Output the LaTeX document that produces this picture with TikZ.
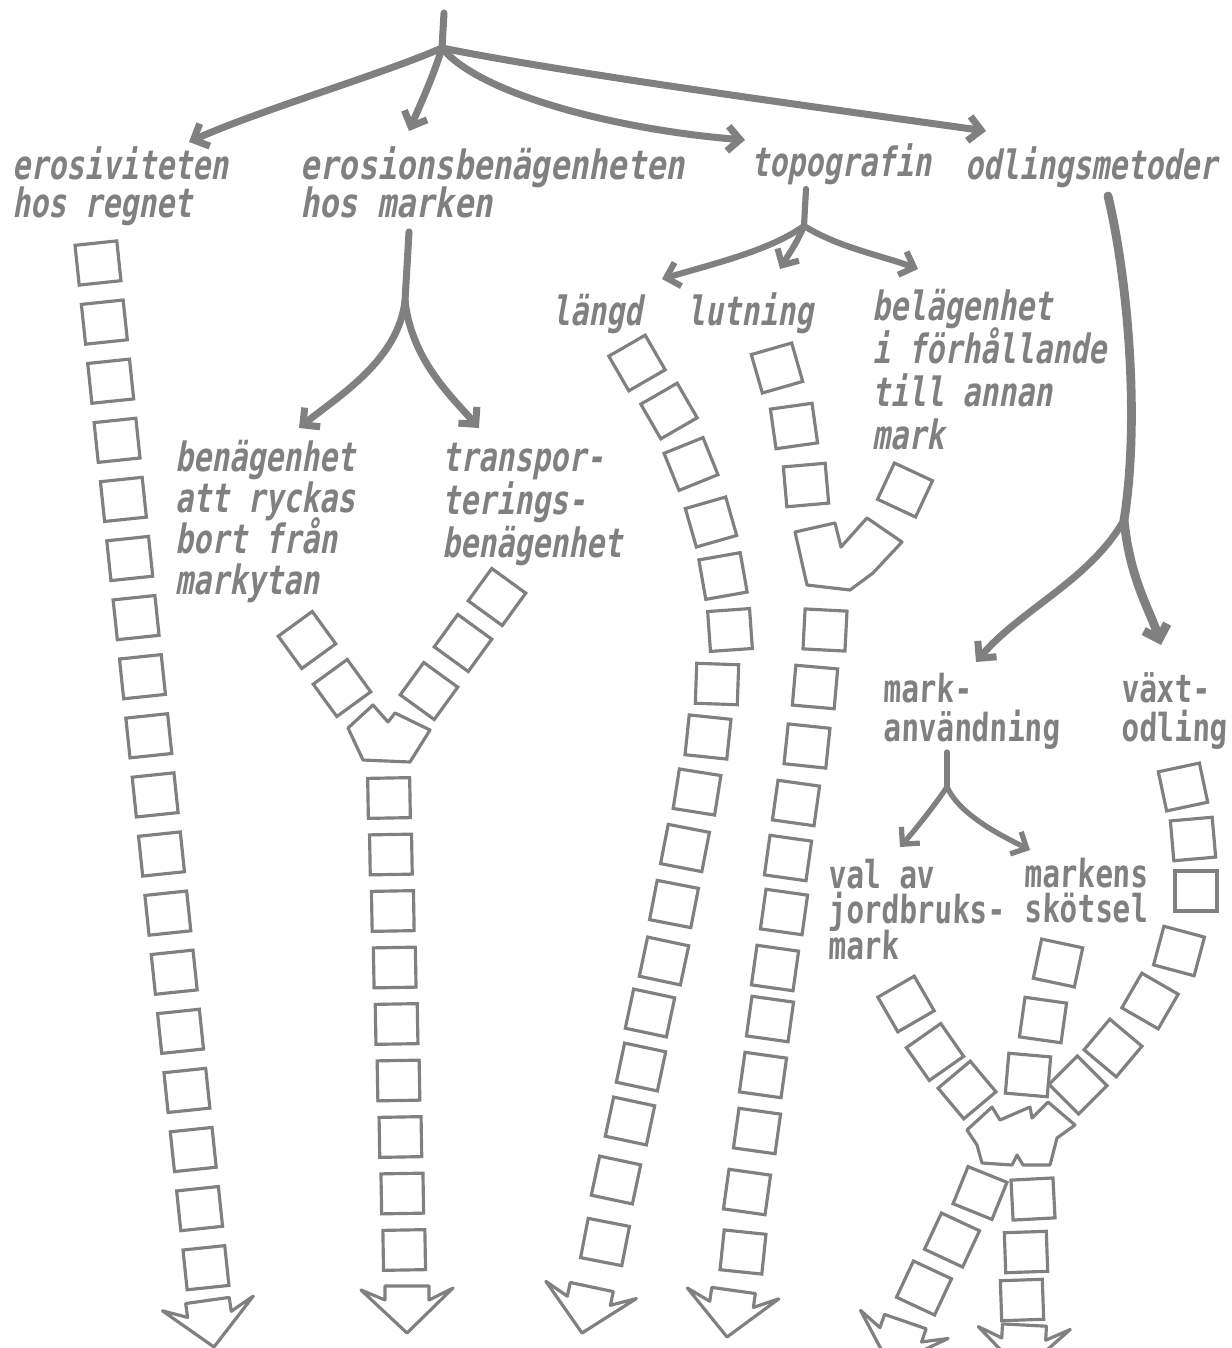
\documentclass[tikz,border=0pt]{standalone}
\usepackage{fontspec}
\newfontfamily\handit[FakeStretch=0.74,FakeSlant=0.18]{DejaVu Sans Mono Bold}
\newfontfamily\handwide[FakeStretch=0.79,FakeSlant=0.18]{DejaVu Sans Mono Bold}
\newfontfamily\handup[FakeStretch=0.76,FakeSlant=0.04]{DejaVu Sans Mono Bold}
\newcommand\fixedlines{\lineskiplimit=-60pt\relax}
\usetikzlibrary{arrows.meta}
\definecolor{pencil}{gray}{0.5}
\definecolor{lettering}{gray}{0.5}
\tikzset{
  lbl/.style={text=lettering, anchor=base west, align=left, inner sep=0pt,
    font=\handit\fontsize{23}{#1}\selectfont\fixedlines},
  lbl/.default=23,
  lblup/.style={lbl, font=\handup\fontsize{22}{#1}\selectfont\fixedlines},
  lblup/.default=21,
  stem/.style={draw=pencil, line width=4pt, line cap=round},
  branch/.style={stem, -{Straight Barb[length=7pt,width=14pt]}},
  sq/.style={draw=pencil, line width=1.8pt, minimum width=0.84cm, minimum height=0.8cm, inner sep=0pt},
  chainline/.style={draw=pencil, line width=1.8pt, line join=round},
}
% broad outlined arrow head: tip x, tip y, rotation
\newcommand\chainhead[3]{\draw[chainline, shift={(#1,#2)}, rotate=#3]
  (0,0) -- (-46,-43) -- (-22,-33) -- (-22,-47) -- (22,-47) -- (22,-33) -- (46,-45) -- cycle;}

\begin{document}
\begin{tikzpicture}[x=0.02cm, y=-0.02cm]
  \fill[white] (0,0) rectangle (1231,1348);
  \useasboundingbox (0,0) rectangle (1231,1348);

  % labels
  \node[lbl=21.5] (erosiv) at (12,217) {erosiviteten\\hos regnet};
  \node[lbl=21.5, font=\handwide\fontsize{23}{21.5}\selectfont\fixedlines]
    (erosion) at (300,217) {erosionsbenägenheten\\hos marken};
  \node[lbl] (topo) at (751,177) {topografin};
  \node[lbl] (odling) at (965,180) {odlingsmetoder};
  \node[lbl] (langd) at (552,325) {längd};
  \node[lbl] (lutn) at (687,325) {lutning};
  \node[lbl=24.4] (belag) at (872,449) {belägenhet\\i förhållande\\till annan\\mark};
  \node[lbl=23.2] (rycka) at (175,594) {benägenhet\\att ryckas\\bort från\\markytan};
  \node[lbl=24.4] (transp) at (442,557) {transpor-\\terings-\\benägenhet};
  \node[lblup=22] (markanv) at (883,741) {mark-\\användning};
  \node[lblup=22] (vaxt) at (1121,741) {växt-\\odling};
  \node[lblup=20] (valav) at (828,959) {val av\\jordbruks-\\mark};
  \node[lblup=19.5] (skotsel) at (1024,922) {markens\\skötsel};

  % top tree
  \coordinate (top) at (444,13);
  \coordinate (root) at (442,48);
  \coordinate (t1) at (189,142);
  \coordinate (t2) at (409,131);
  \coordinate (t3) at (745,140);
  \coordinate (t4) at (986,131);
  \draw[stem] (top) -- (root);
  \draw[branch] (root) .. controls (380,75) and (260,110) .. (t1);
  \draw[branch] (root) .. controls (432,80) and (420,105) .. (t2);
  \draw[branch] (root) .. controls (480,95) and (620,130) .. (t3);
  \draw[branch] (root) .. controls (560,72) and (800,105) .. (t4);

  % erosionsbenaegenheten
  \coordinate (etop) at (409,232);
  \coordinate (eroot) at (405,301);
  \draw[stem] (etop) -- (eroot);
  \draw[branch] (eroot) .. controls (398,360) and (340,395) .. (299,428);
  \draw[branch] (eroot) .. controls (412,360) and (450,395) .. (479,428);

  % topografin
  \coordinate (ttop) at (806,189);
  \coordinate (troot) at (804,226);
  \draw[stem, line width=3.5pt] (ttop) -- (troot);
  \draw[branch, line width=3.5pt] (troot) .. controls (770,250) and (720,262) .. (662,279);
  \draw[branch, line width=3.5pt] (troot) .. controls (796,245) and (788,255) .. (780,269);
  \draw[branch, line width=3.5pt] (troot) .. controls (840,248) and (880,255) .. (918,269);

  % odlingsmetoder
  \coordinate (otop) at (1108,196);
  \coordinate (oroot) at (1124,520);
  \draw[stem, line width=5pt] (otop) .. controls (1128,280) and (1140,420) .. (oroot);
  \draw[branch, line width=5pt] (oroot) .. controls (1130,580) and (1150,610) .. (1161,645);
  \draw[branch] (oroot) .. controls (1090,580) and (1020,610) .. (976,662);

  % markanvaendning
  \coordinate (mtop) at (947,752);
  \coordinate (mroot) at (947,787);
  \draw[stem, line width=3pt] (mtop) -- (mroot);
  \draw[branch, line width=3pt] (mroot) .. controls (935,805) and (915,830) .. (900,847);
  \draw[branch, line width=3pt] (mroot) .. controls (960,815) and (1000,835) .. (1030,850);

  % chains of squares
  \foreach \i in {0,...,17}
    \node[sq, rotate=6] (ea\i) at ({98+6.35*\i},{263+59.1*\i}) {};
  \chainhead{214}{1347}{8}

  \foreach \x/\y/\r [count=\i] in {307/640/36, 342/688/36}
    \node[sq, rotate=\r] (eb\i) at (\x,\y) {};
  \foreach \x/\y/\r [count=\i] in {497/597/-36, 463/643/-36, 429/691/-36}
    \node[sq, rotate=\r] (ec\i) at (\x,\y) {};
  \draw[chainline] (348,728) -- (373,705) -- (388,722) -- (395,713) -- (430,730)
    -- (410,762) -- (363,760) -- cycle;
  \foreach \i in {0,...,8}
    \node[sq, rotate=1] (ed\i) at ({389+1.9*\i},{798+56.5*\i}) {};
  \chainhead{407}{1333}{0}

  \foreach \x/\y/\r [count=\i] in {637/363/30, 669/411/30, 691/464/22, 711/522/16,
      723/576/10, 730/630/4, 717/684/-2, 708/737/-6, 697/792/-9, 685/848/-11,
      674/904/-11, 664/961/-12, 650/1013/-12, 641/1067/-12, 630/1121/-12,
      616/1180/-12, 605/1242/-11}
    \node[sq, rotate=\r] (la\i) at (\x,\y) {};
  \chainhead{582}{1333}{-12}

  \foreach \x/\y/\r [count=\i] in {777/368/16, 794/426/8, 806/485/5}
    \node[sq, rotate=\r] (lu\i) at (\x,\y) {};
  \node[sq, rotate=-25] (be1) at (905,490) {};
  \draw[chainline] (795,532) -- (835,523) -- (841,547) -- (867,518) -- (902,542)
    -- (873,573) -- (850,590) -- (807,585) -- cycle;
  \foreach \x/\y/\r [count=\i] in {825/630/-3, 815/687/-5, 807/746/-6, 796/803/-8,
      788/858/-8, 784/912/-8, 775/968/-8, 770/1019/-8, 763/1075/-8, 757/1131/-8,
      747/1192/-8, 743/1252/-6}
    \node[sq, rotate=\r] (lv\i) at (\x,\y) {};
  \chainhead{727}{1337}{-8}

  \foreach \x/\y/\r [count=\i] in {906/1004/30, 935/1052/35, 967/1090/40}
    \node[sq, rotate=\r] (va\i) at (\x,\y) {};
  \foreach \x/\y/\r [count=\i] in {1058/963/-12, 1043/1020/-8, 1028/1075/-5}
    \node[sq, rotate=\r] (ms\i) at (\x,\y) {};
  \foreach \x/\y/\r [count=\i] in {1183/787/12, 1193/839/5, 1196/891/0, 1179/951/-15,
      1150/1001/-30, 1113/1048/-40, 1078/1085/-45}
    \node[sq, rotate=\r] (vo\i) at (\x,\y) {};
  \draw[chainline] (967,1130) -- (992,1107) -- (1000,1120) -- (1030,1107) -- (1032,1118)
    -- (1048,1102) -- (1075,1125) -- (1057,1138) -- (1050,1165) -- (1023,1165)
    -- (1017,1155) -- (1012,1165) -- (982,1163) -- (977,1145) -- cycle;
  \foreach \x/\y/\r [count=\i] in {980/1193/-22, 952/1240/-25, 924/1288/-25}
    \node[sq, rotate=\r] (ka\i) at (\x,\y) {};
  \chainhead{890}{1366}{-19}
  \foreach \x/\y/\r [count=\i] in {1033/1199/3, 1026/1252/2, 1022/1300/2}
    \node[sq, rotate=\r] (kb\i) at (\x,\y) {};
  \chainhead{1022}{1372}{-3}
\end{tikzpicture}
\end{document}
